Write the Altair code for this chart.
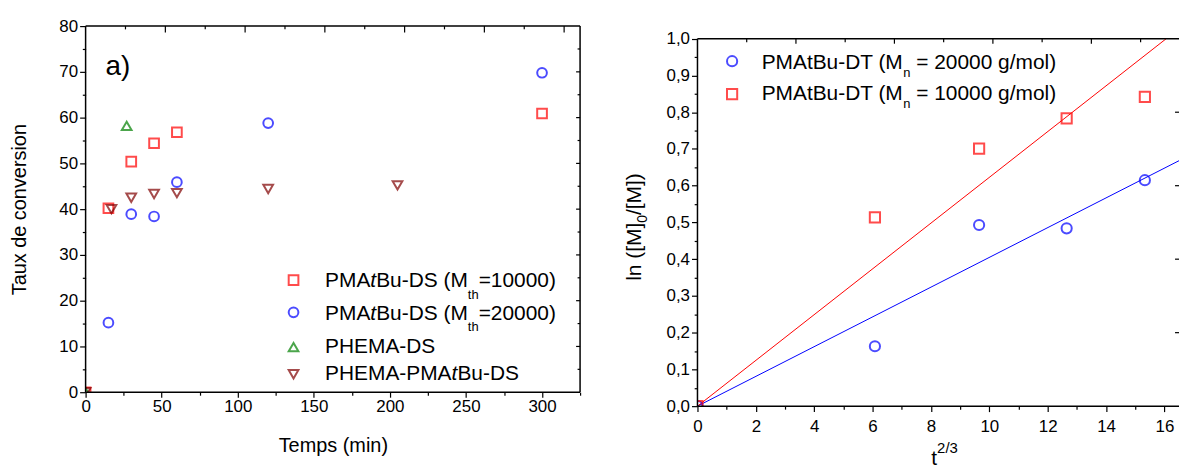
import altair as alt
import pandas as pd

FONT = "Liberation Sans"

# ---------------- panel a) data ----------------
time_10k = [0, 15, 30, 45, 60, 300]
conv_10k = [0, 40.2, 50.4, 54.4, 56.8, 60.9]
time_20k = [15, 30, 45, 60, 120, 300]
conv_20k = [15.2, 38.9, 38.4, 45.9, 58.8, 69.8]
time_phema = [0, 27]
conv_phema = [0, 58.2]
time_block = [0, 17, 30, 45, 60, 120, 205]
conv_block = [0, 40.0, 42.5, 43.3, 43.5, 44.4, 45.2]

series_a = ["PMAtBu-DS (Mth=10000)", "PMAtBu-DS (Mth=20000)", "PHEMA-DS", "PHEMA-PMAtBu-DS"]
colors_a = ["#FF0000", "#0000FF", "#008000", "#800000"]
shapes_a = ["square", "circle", "triangle-up", "triangle-down"]

# ---------------- panel b) data ----------------
t23 = [0, 6.08, 9.65, 12.65, 15.33]
ln_20k = [0, 0.163, 0.493, 0.484, 0.615]
ln_10k = [0, 0.514, 0.701, 0.783, 0.842]
fit_x_20k = [0, 16.5]
fit_y_20k = [0, 0.668]
fit_x_10k = [0, 16.06]
fit_y_10k = [0, 1.0]
series_b = ["PMAtBu-DT (Mn = 20000 g/mol)", "PMAtBu-DT (Mn = 10000 g/mol)"]
colors_b = ["#0000FF", "#FF0000"]
shapes_b = ["circle", "square"]

# ---------------- tick lists ----------------
xa_ticks = [0, 25, 50, 75, 100, 125, 150, 175, 200, 225, 250, 275, 300, 325]
ya_ticks = [0, 5, 10, 15, 20, 25, 30, 35, 40, 45, 50, 55, 60, 65, 70, 75, 80]
xa_top_major = [50, 100, 150, 200, 250, 300]     # top axis runs 0..310 over the same width
xa_top_minor = [25, 75, 125, 175, 225, 275]
ya_right_major = [10, 20, 30, 40, 50, 60, 70]
ya_right_minor = [5, 15, 25, 35, 45, 55, 65, 75]
xb_ticks = [0, 1, 2, 3, 4, 5, 6, 7, 8, 9, 10, 11, 12, 13, 14, 15, 16]
yb_ticks = [0, 0.05, 0.1, 0.15, 0.2, 0.25, 0.3, 0.35, 0.4, 0.45, 0.5,
            0.55, 0.6, 0.65, 0.7, 0.75, 0.8, 0.85, 0.9, 0.95, 1.0]
xb_top_major = [2, 4, 6, 8]                      # top axis: one unit every ~49.5 px
xb_top_minor = [1, 3, 5, 7, 9]
yb_right = [0.2, 0.4, 0.6, 0.8]

# ---------------- geometry ----------------
WA, HA = 497, 368
XA_MAX, YA_MAX, XA_TOP_MAX = 325, 80, 310
WB, HB = 484, 382
XB_MAX, YB_MAX, XB_TOP_MAX = 16.5, 1.0344, 9.78
PX_B = HB / YB_MAX
LINE_W = 1.5
MK_W = 2.0

AW = {" ": 278, "(": 333, ")": 333, "-": 333, "/": 278, "=": 584, "[": 278, "]": 278,
      "0": 556, "1": 556, "2": 556, "3": 556, "4": 556, "5": 556, "6": 556, "7": 556, "8": 556, "9": 556,
      "A": 667, "B": 667, "D": 722, "E": 667, "H": 722, "M": 833, "P": 667, "S": 667, "T": 611,
      "g": 556, "h": 556, "l": 222, "m": 833, "n": 556, "o": 556, "t": 278, "u": 556}

dummy = pd.DataFrame({"d": [0]})


def tw(s, size):
    return sum(AW.get(c, 556) for c in s) * size / 1000.0


def rich(segments, x, y, angle=0):
    """segments: (text, size, italic, dy) drawn one after another from anchor (x, y)."""
    out = []
    off = 0.0
    for text, size, italic, dy in segments:
        lead = len(text) - len(text.lstrip(" "))
        off += tw(" " * lead, size)
        body = text.lstrip(" ")
        props = dict(align="left", baseline="alphabetic", font=FONT, fontSize=size,
                     dx=off, dy=dy, color="black")
        if italic:
            props["fontStyle"] = "italic"
        if angle:
            props["angle"] = angle
        out.append(alt.Chart(dummy).mark_text(**props).encode(
            x=alt.value(x), y=alt.value(y), text=alt.value(body)))
        off += tw(body, size)
    return out


def axis_common(**kw):
    base = dict(domain=False, grid=False, tickColor="black", tickWidth=1.2,
                labelFont=FONT, labelFontSize=17, labelColor="black", labelOverlap=False,
                labelFlush=False, titleFont=FONT, titleFontSize=20, titleFontWeight="normal",
                titleColor="black")
    base.update(kw)
    return alt.Axis(**base)


# ================= panel a =================
rows = []
for s, col, shp, ts, cs in zip(series_a, colors_a, shapes_a,
                               [time_10k, time_20k, time_phema, time_block],
                               [conv_10k, conv_20k, conv_phema, conv_block]):
    for t, c in zip(ts, cs):
        rows.append({"t": t, "c": c, "s": s, "col": col, "shp": shp})
df_a = pd.DataFrame(rows)

xs_a = alt.Scale(domain=[0, XA_MAX], nice=False, zero=False)
ys_a = alt.Scale(domain=[0, YA_MAX], nice=False, zero=False)

x_axis_a = axis_common(values=xa_ticks, title="Temps (min)",
                       tickSize={"condition": {"test": "datum.value % 50 !== 0", "value": 3}, "value": 5},
                       labelExpr="datum.value % 50 === 0 ? datum.label : ''",
                       labelPadding=1, titlePadding=22)
y_axis_a = axis_common(values=ya_ticks, title="Taux de conversion",
                       tickSize={"condition": {"test": "datum.value % 10 !== 0", "value": 3.3}, "value": 6},
                       labelExpr="datum.value % 10 === 0 ? datum.label : ''",
                       labelPadding=2, titlePadding=30)


def XA(field):
    return alt.X(field, type="quantitative", scale=xs_a, axis=x_axis_a)


def YA(field):
    return alt.Y(field, type="quantitative", scale=ys_a, axis=y_axis_a)


points_a = alt.Chart(df_a).mark_point(filled=False, strokeWidth=MK_W, size=95, clip=True).encode(
    x=XA("t"), y=YA("c"),
    color=alt.Color("col:N", scale=None),
    shape=alt.Shape("shp:N", scale=None),
)

frame_df_a = pd.DataFrame({"x1": [0, XA_MAX, 0, 0], "x2": [0, XA_MAX, XA_MAX, XA_MAX],
                           "y1": [0, 0, 0, YA_MAX], "y2": [YA_MAX, YA_MAX, 0, YA_MAX]})
frame_a = alt.Chart(frame_df_a).mark_rule(color="black", strokeWidth=LINE_W).encode(
    x=XA("x1"), x2="x2:Q", y=YA("y1"), y2="y2:Q")

right_ticks_a = [
    alt.Chart(pd.DataFrame({"v": ya_right_major})).mark_rule(color="black", strokeWidth=1.2).encode(
        y=YA("v"), x=alt.value(WA), x2=alt.value(WA - 4)),
    alt.Chart(pd.DataFrame({"v": ya_right_minor})).mark_rule(color="black", strokeWidth=1.2).encode(
        y=YA("v"), x=alt.value(WA), x2=alt.value(WA - 2.5)),
]

ratio_a = XA_MAX / XA_TOP_MAX
top_ticks_a = [
    alt.Chart(pd.DataFrame({"v": xa_top_major})).transform_calculate(p=f"datum.v * {ratio_a}").mark_rule(
        color="black", strokeWidth=1.2).encode(x=XA("p"), y=alt.value(0), y2=alt.value(6.5)),
    alt.Chart(pd.DataFrame({"v": xa_top_minor})).transform_calculate(p=f"datum.v * {ratio_a}").mark_rule(
        color="black", strokeWidth=1.2).encode(x=XA("p"), y=alt.value(0), y2=alt.value(3.3)),
]

leg_rows_a = [
    (262.7, 255.3, [("PMA", 21, False, 0), ("t", 21, True, 0), ("Bu-DS (M", 21, False, 0),
                    ("th", 13, False, 11.5), ("=10000)", 21, False, 0)]),
    (295.0, 287.7, [("PMA", 21, False, 0), ("t", 21, True, 0), ("Bu-DS (M", 21, False, 0),
                    ("th", 13, False, 11.5), ("=20000)", 21, False, 0)]),
    (328.3, 322.7, [("PHEMA-DS", 21, False, 0)]),
    (355.3, 350.0, [("PHEMA-PMA", 21, False, 0), ("t", 21, True, 0), ("Bu-DS", 21, False, 0)]),
]
legend_a = []
for (base_y, mark_y, segs), col, shp in zip(leg_rows_a, colors_a, shapes_a):
    legend_a.append(alt.Chart(dummy).mark_point(shape=shp, color=col, filled=False, strokeWidth=MK_W,
                                                size=95).encode(x=alt.value(209), y=alt.value(mark_y)))
    legend_a += rich(segs, 240.7, base_y)

label_a = alt.Chart(dummy).mark_text(text="a)", font=FONT, fontSize=28, align="left",
                                     baseline="alphabetic", color="black").encode(
    x=alt.value(20), y=alt.value(49))

panel_a = alt.layer(points_a, frame_a, *right_ticks_a, *top_ticks_a, *legend_a, label_a).properties(
    width=WA, height=HA)

# ================= panel b =================
rows = []
for s, col, shp, vals in zip(series_b, colors_b, shapes_b, [ln_20k, ln_10k]):
    for x, y in zip(t23, vals):
        rows.append({"x": x, "y": y, "s": s, "col": col, "shp": shp})
df_b = pd.DataFrame(rows)
rows = []
for s, col, fx, fy in zip(series_b, colors_b, [fit_x_20k, fit_x_10k], [fit_y_20k, fit_y_10k]):
    for x, y in zip(fx, fy):
        rows.append({"x": x, "y": y, "s": s, "col": col})
df_fit = pd.DataFrame(rows)

xs_b = alt.Scale(domain=[0, XB_MAX], nice=False, zero=False)
ys_b = alt.Scale(domain=[0, YB_MAX], nice=False, zero=False)

x_axis_b = axis_common(values=xb_ticks, title=None,
                       tickSize={"condition": {"test": "datum.value % 2 !== 0", "value": 3}, "value": 5.5},
                       labelExpr="datum.value % 2 === 0 ? datum.label : ''",
                       labelPadding=7)
y_axis_b = axis_common(values=yb_ticks, title=None,
                       tickSize={"condition": {"test": "abs(datum.value*10 - round(datum.value*10)) > 0.01",
                                               "value": 3.3}, "value": 6},
                       labelExpr="abs(datum.value*10 - round(datum.value*10)) < 0.01 ? "
                                 "replace(format(datum.value, '.1f'), '.', ',') : ''",
                       labelPadding=2)


def XB(field):
    return alt.X(field, type="quantitative", scale=xs_b, axis=x_axis_b)


def YB(field):
    return alt.Y(field, type="quantitative", scale=ys_b, axis=y_axis_b)


fits_b = alt.Chart(df_fit).mark_line(strokeWidth=1, clip=True).encode(
    x=XB("x"), y=YB("y"), color=alt.Color("col:N", scale=None), detail="s:N")
points_b = alt.Chart(df_b).mark_point(filled=False, strokeWidth=MK_W, size=105, clip=True).encode(
    x=XB("x"), y=YB("y"), color=alt.Color("col:N", scale=None), shape=alt.Shape("shp:N", scale=None))

frame_df_b = pd.DataFrame({"x1": [0, 0, 0], "x2": [0, XB_MAX, XB_MAX],
                           "y1": [0, 0, 1.0], "y2": [1.0, 0, 1.0]})
frame_b = alt.Chart(frame_df_b).mark_rule(color="black", strokeWidth=LINE_W).encode(
    x=XB("x1"), x2="x2:Q", y=YB("y1"), y2="y2:Q")

right_ticks_b = alt.Chart(pd.DataFrame({"v": yb_right})).mark_rule(color="black", strokeWidth=1.2).encode(
    y=YB("v"), x=alt.value(WB), x2=alt.value(WB - 4))

y_top_b = HB - 1.0 * PX_B
ratio_b = XB_MAX / XB_TOP_MAX
top_ticks_b = [
    alt.Chart(pd.DataFrame({"v": xb_top_major})).transform_calculate(p=f"datum.v * {ratio_b}").mark_rule(
        color="black", strokeWidth=1.2).encode(x=XB("p"), y=alt.value(y_top_b), y2=alt.value(y_top_b + 5)),
    alt.Chart(pd.DataFrame({"v": xb_top_minor})).transform_calculate(p=f"datum.v * {ratio_b}").mark_rule(
        color="black", strokeWidth=1.2).encode(x=XB("p"), y=alt.value(y_top_b), y2=alt.value(y_top_b + 3.5)),
]

leg_rows_b = [
    (colors_b[0], shapes_b[0], 42.7, 35.3, " = 20000 g/mol)"),
    (colors_b[1], shapes_b[1], 74.3, 68.3, " = 10000 g/mol)"),
]
legend_b = []
for col, shp, base_y, mark_y, tail in leg_rows_b:
    legend_b.append(alt.Chart(dummy).mark_point(shape=shp, color=col, filled=False, strokeWidth=MK_W,
                                                size=105).encode(x=alt.value(34.8), y=alt.value(mark_y)))
    legend_b += rich([("PMAtBu-DT (M", 21, False, 0), ("n", 13, False, 8.3), (tail, 21, False, 0)],
                     64.5, base_y)

ytitle_b = rich([("ln ([M]", 21, False, 0), ("0", 14, False, 6), ("/[M])", 21, False, 0)],
                -57, 256, angle=270)
xtitle_b = rich([("t", 21, False, 0), ("2/3", 15, False, -12)], 235, 441)

panel_b = alt.layer(fits_b, points_b, frame_b, right_ticks_b, *top_ticks_b, *legend_b,
                    *ytitle_b, *xtitle_b).properties(width=WB, height=HB)

chart = alt.hconcat(panel_a, panel_b, spacing=41).properties(
    padding={"left": 0, "top": 7, "right": 0, "bottom": 0},
    background="white",
).configure_view(stroke="transparent")

chart.save("out.html", embed_options={"renderer": "svg", "actions": False})
